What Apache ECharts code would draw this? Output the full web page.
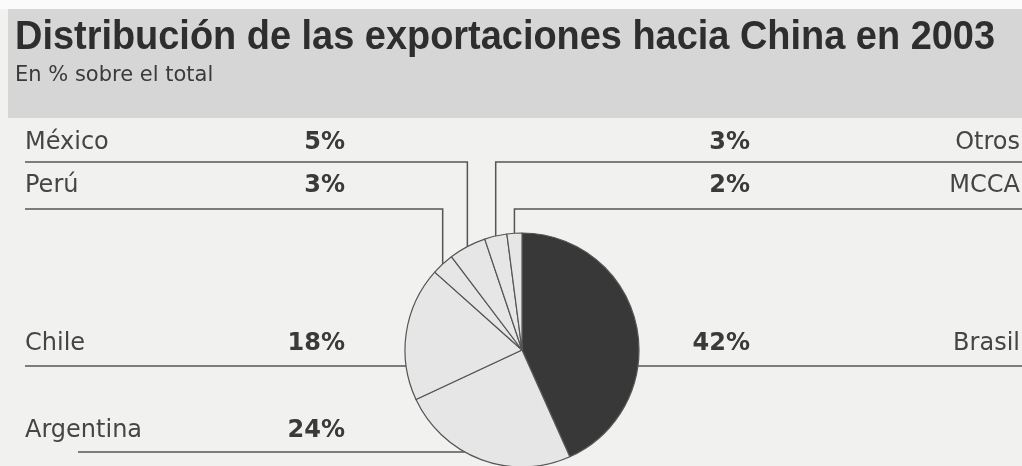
<!DOCTYPE html>
<html>
<head>
<meta charset="utf-8">
<script src="https://cdn.jsdelivr.net/npm/echarts@6/dist/echarts.min.js"></script>
<style>
html,body{margin:0;padding:0;background:#fafafa;}
#chart{width:1022px;height:466px;}
</style>
</head>
<body>
<div id="chart"></div>
<script>
// ---- data ----
var titleText = 'Distribución de las exportaciones hacia China en 2003';
var subtitleText = 'En % sobre el total';
var countries = ['Brasil', 'Argentina', 'Chile', 'Perú', 'México', 'Otros', 'MCCA'];
var shares = [42, 24, 18, 3, 5, 3, 2];

// ---- layout (not data) ----
var CX = 522, CY = 350, R = 117;
var layout = {
  'México':    {side: 'L', textY: 143, lineY: 162, lineEnd: 25, vertical: true},
  'Perú':      {side: 'L', textY: 186, lineY: 209, lineEnd: 25, vertical: true},
  'Chile':     {side: 'L', textY: 344, lineY: 366, lineEnd: 25, vertical: false},
  'Argentina': {side: 'L', textY: 431, lineY: 452, lineEnd: 78, vertical: false},
  'Otros':     {side: 'R', textY: 143, lineY: 162, lineEnd: 1022, vertical: true},
  'MCCA':      {side: 'R', textY: 186, lineY: 209, lineEnd: 1022, vertical: true},
  'Brasil':    {side: 'R', textY: 344, lineY: 366, lineEnd: 1022, vertical: false}
};

var fillColors = ['#383838', '#e6e6e6', '#e6e6e6', '#e6e6e6', '#e6e6e6', '#e6e6e6', '#e6e6e6'];

var pieData = countries.map(function (c, i) {
  return {name: c, value: shares[i], itemStyle: {color: fillColors[i]}};
});

function measure(text, font) {
  var cv = document.createElement('canvas').getContext('2d');
  cv.font = font;
  return cv.measureText(text).width;
}
var titleFont = 'bold 40px "Liberation Sans", Arial, sans-serif';
var titleScale = 980 / measure(titleText, titleFont);

var chart = echarts.init(document.getElementById('chart'), null, {renderer: 'canvas'});

var option = {
  backgroundColor: '#f1f1f0',
  animation: false,
  graphic: [
    {type: 'rect', left: 0, top: 0, shape: {width: 1022, height: 9}, style: {fill: '#fbfbfb'}, z: 0},
    {type: 'rect', shape: {x: 8, y: 9, width: 1014, height: 109}, style: {fill: '#d6d6d6'}, z: 0},
    {type: 'text', x: 15, y: 38, scaleX: titleScale, z: 2,
      style: {text: titleText, font: titleFont, fill: '#2e2e2e', verticalAlign: 'middle', align: 'left'}},
    {type: 'text', x: 15, y: 76, z: 2,
      style: {text: subtitleText, font: '21px "DejaVu Sans", sans-serif', fill: '#3a3a3a', verticalAlign: 'middle', align: 'left'}}
  ],
  series: [{
    type: 'pie',
    center: [CX, CY],
    radius: R,
    startAngle: 90,
    clockwise: true,
    avoidLabelOverlap: false,
    minShowLabelAngle: 0,
    silent: true,
    emphasis: {disabled: true},
    data: pieData,
    itemStyle: {borderColor: '#555', borderWidth: 1.2},
    label: {
      show: true,
      position: 'outside',
      formatter: function (p) {
        var s = layout[p.name].side;
        if (s === 'L') return '{nl|' + p.name + '}{vl|' + p.value + '%}';
        return '{vr|' + p.value + '%}{nr|' + p.name + '}';
      },
      rich: {
        nl: {width: 260, align: 'left', fontFamily: 'DejaVu Sans', fontSize: 24, color: '#454545'},
        vl: {width: 60, align: 'right', fontFamily: 'DejaVu Sans', fontWeight: 'bold', fontSize: 24, color: '#3a3a3a'},
        vr: {width: 60, align: 'right', fontFamily: 'DejaVu Sans', fontWeight: 'bold', fontSize: 24, color: '#3a3a3a'},
        nr: {width: 270, align: 'right', fontFamily: 'DejaVu Sans', fontSize: 24, color: '#454545'}
      }
    },
    labelLine: {
      show: true, length: 5, length2: 5, smooth: false,
      lineStyle: {color: '#555', width: 1.5}
    },
    labelLayout: function (params) {
      var name = countries[params.dataIndex];
      var L = layout[name];
      var p0 = params.labelLinePoints ? params.labelLinePoints[0] : [CX, CY - R];
      var pts;
      if (L.vertical) {
        pts = [[p0[0], p0[1]], [p0[0], L.lineY], [L.lineEnd, L.lineY]];
      } else {
        var dy = L.lineY - CY;
        var dx = Math.sqrt(Math.max(0, R * R - dy * dy));
        var ex = L.side === 'L' ? CX - dx : CX + dx;
        pts = [[ex, L.lineY], [ex, L.lineY], [L.lineEnd, L.lineY]];
      }
      return {
        x: L.side === 'L' ? 25 : 690,
        y: L.textY,
        align: 'left',
        verticalAlign: 'middle',
        labelLinePoints: pts
      };
    }
  }]
};
chart.setOption(option);
</script>
</body>
</html>
